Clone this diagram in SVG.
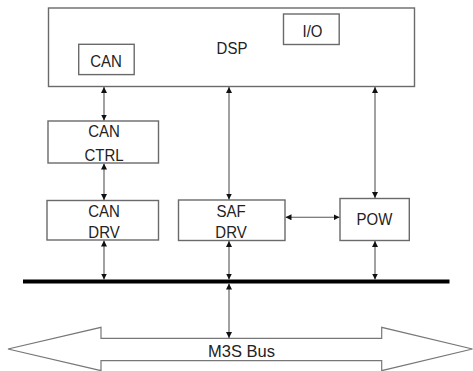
<svg xmlns="http://www.w3.org/2000/svg" width="473" height="371" viewBox="0 0 473 371">
<style>
.box{fill:#fff;stroke:#6a6a6a;stroke-width:1.4}
.lbl{font-family:"Liberation Sans",Arial,sans-serif;font-size:15px;fill:#222;text-anchor:middle}
.con{stroke:#555;stroke-width:1.1;fill:none;marker-start:url(#ah);marker-end:url(#ah)}
</style>
<defs>
<marker id="ah" viewBox="0 0 6 6" refX="6" refY="3" markerWidth="6" markerHeight="6" markerUnits="userSpaceOnUse" orient="auto-start-reverse">
<path d="M0,0 L6,3 L0,6 z" fill="#111"/>
</marker>
</defs>
<rect width="473" height="371" fill="#fff"/>
<g id="dsp">
<rect class="box" x="48.5" y="8" width="366" height="78.5"/>
<text class="lbl" transform="translate(232,54) scale(1,1.15)">DSP</text>
</g>
<g id="can">
<rect class="box" x="78.7" y="44.3" width="55.5" height="30.3"/>
<text class="lbl" transform="translate(106,66.5) scale(1,1.15)">CAN</text>
</g>
<g id="io">
<rect class="box" x="283.5" y="14" width="55.7" height="30.5"/>
<text class="lbl" transform="translate(312.5,36.5) scale(1,1.15)">I/O</text>
</g>
<g id="canctrl">
<rect class="box" x="48" y="121" width="110.5" height="42"/>
<text class="lbl" transform="translate(104,137.3) scale(1,1.15)">CAN</text>
<text class="lbl" transform="translate(104,160.5) scale(1,1.15)">CTRL</text>
</g>
<g id="candrv">
<rect class="box" x="47" y="200.5" width="111.5" height="39.5"/>
<text class="lbl" transform="translate(104,216.7) scale(1,1.15)">CAN</text>
<text class="lbl" transform="translate(104,238.3) scale(1,1.15)">DRV</text>
</g>
<g id="safdrv">
<rect class="box" x="178.5" y="200" width="106.5" height="40.5"/>
<text class="lbl" transform="translate(231,217.3) scale(1,1.15)">SAF</text>
<text class="lbl" transform="translate(231,238.3) scale(1,1.15)">DRV</text>
</g>
<g id="pow">
<rect class="box" x="340" y="198.5" width="69.3" height="42"/>
<text class="lbl" transform="translate(374.5,225) scale(1,1.15)">POW</text>
</g>
<g id="bus">
<line x1="23" y1="281.5" x2="449.5" y2="281.5" stroke="#000" stroke-width="4"/>
</g>
<g id="m3s">
<path d="M8,349 L101,327.3 L101,338.3 L381.7,338.3 L381.7,327.3 L472.5,349 L381.7,370.7 L381.7,360.7 L101,360.7 L101,370.7 Z" fill="#fff" stroke="#777" stroke-width="1.2"/>
<text class="lbl" style="font-size:16.5px" x="241.5" y="357.3">M3S Bus</text>
</g>
<g id="connectors">
<line class="con" x1="104" y1="87" x2="104" y2="120.5"/>
<line class="con" x1="104" y1="163.5" x2="104" y2="200"/>
<line class="con" x1="104" y1="240.5" x2="104" y2="279.5"/>
<line class="con" x1="229" y1="87" x2="229" y2="199.5"/>
<line class="con" x1="229" y1="241" x2="229" y2="279.5"/>
<line class="con" x1="229" y1="283.5" x2="229" y2="338"/>
<line class="con" x1="375" y1="87" x2="375" y2="198"/>
<line class="con" x1="375" y1="241" x2="375" y2="279.5"/>
<line class="con" x1="285.5" y1="217.3" x2="339.5" y2="217.3"/>
</g>
</svg>
